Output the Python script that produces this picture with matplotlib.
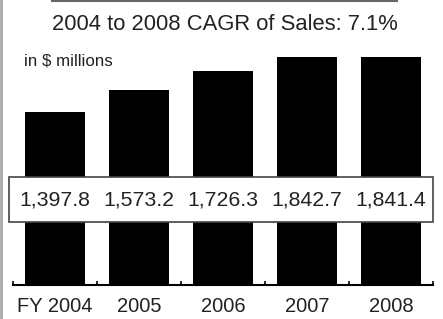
import matplotlib
matplotlib.use("Agg")
import matplotlib.pyplot as plt
from matplotlib.lines import Line2D
from matplotlib.patches import Rectangle

# Data
years = ["FY 2004", "2005", "2006", "2007", "2008"]
sales = [1397.8, 1573.2, 1726.3, 1842.7, 1841.4]
value_labels = ["1,397.8", "1,573.2", "1,726.3", "1,842.7", "1,841.4"]

plt.rcParams['font.family'] = ['Liberation Sans', 'DejaVu Sans']

W, H = 443, 319
fig = plt.figure(figsize=(W / 100, H / 100), dpi=100)

# axes placed in pixel terms: baseline at y=285, x from 13 to 433
ax = fig.add_axes([13 / W, 34 / H, 420 / W, 245 / H])
x = range(len(sales))
ax.bar(x, sales, width=0.726, color="black")
ax.set_xlim(-0.5, 4.5)
ax.set_ylim(0, 1979.5)

for s in ["top", "right", "left"]:
    ax.spines[s].set_visible(False)
ax.spines["bottom"].set_linewidth(1.5)
ax.set_yticks([])

ax.set_xticks(list(x))
ax.set_xticklabels(years, fontsize=14.5, color="#222222")
ax.tick_params(axis="x", which="major", length=0, pad=9)
ax.set_xticks([i - 0.5 for i in range(len(sales) + 1)], minor=True)
ax.tick_params(axis="x", which="minor", direction="in", length=3, width=1.2)

# value box across bars
ax.add_patch(Rectangle((-0.0095, 0.257), 1.0095, 0.184, transform=ax.transAxes,
                       facecolor="white", edgecolor="#444444", lw=1.2, zorder=3,
                       clip_on=False))
for i, lab in enumerate(value_labels):
    ax.text(i, 0.347, lab, transform=ax.get_xaxis_transform(), ha="center",
            va="center", fontsize=15.3, color="#222222", zorder=4)

fig.text(224.5 / W, 1 - 25 / H, "2004 to 2008 CAGR of Sales: 7.1%", ha="center",
         va="center", fontsize=15.8, color="#222222")
fig.text(24 / W, 1 - 61 / H, "in $ millions", ha="left", va="center", fontsize=12.2,
         color="#222222")

# frame lines
fig.add_artist(Line2D([52 / W, 397 / W], [1 - 0.5 / H, 1 - 0.5 / H], color="#666666", lw=1.5))
fig.add_artist(Line2D([1 / W, 1 / W], [0, 1], color="#aaaaaa", lw=2))

fig.savefig("out.png", dpi=100)
